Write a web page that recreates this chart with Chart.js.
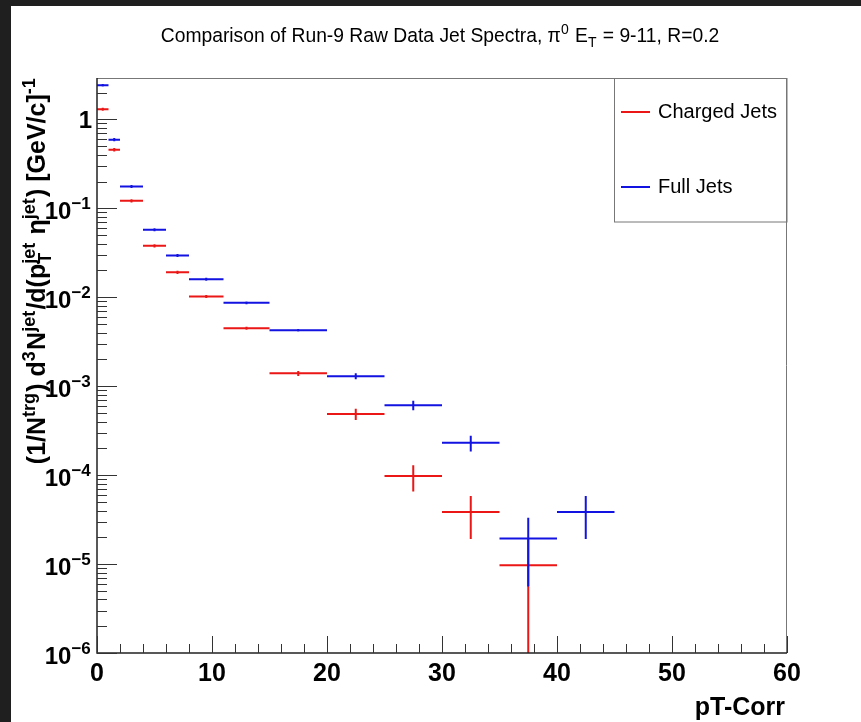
<!DOCTYPE html>
<html>
<head>
<meta charset="utf-8">
<script src="https://cdn.jsdelivr.net/npm/chart.js@4.4.1/dist/chart.umd.min.js"></script>
<style>
  html, body { margin: 0; padding: 0; background: #fff; }
  canvas { display: block; }
</style>
</head>
<body>
<canvas id="chart" width="861" height="722"></canvas>
<script>
// pT-Corr bin edges (variable width bins)
const binEdges = [0, 1, 2, 4, 6, 8, 11, 15, 20, 25, 30, 35, 40, 45];

// per-trigger yields
const chargedJets = [1.30, 0.456, 0.1216, 0.0379, 0.0191, 0.01018, 0.00449, 0.001396, 0.000486, 0.0000975, 0.0000386, 0.0000097, null];
const chargedErr  = [0.05, 0.02, 0.005, 0.0016, 0.0008, 0.0004, 0.00018, 0.00009, 0.00007, 0.000032, 0.0000195, 0.0000097, null];
const fullJets    = [2.42, 0.592, 0.176, 0.0574, 0.0295, 0.01596, 0.00865, 0.00426, 0.001294, 0.000610, 0.000231, 0.0000194, 0.0000386];
const fullErr     = [0.08, 0.025, 0.007, 0.0022, 0.0012, 0.0006, 0.0003, 0.00015, 0.0001, 0.000075, 0.000047, 0.0000138, 0.0000195];

const xTicks = [0, 10, 20, 30, 40, 50, 60];
const yDecades = [-6, -5, -4, -3, -2, -1, 0];

const RED = 'rgb(235,22,22)';
const BLUE = 'rgb(18,18,225)';
const FONT = '"Liberation Sans", Arial, Helvetica, sans-serif';

function toPoints(vals) {
  return vals.map((v, i) => ({ x: (binEdges[i] + binEdges[i + 1]) / 2, y: v }));
}

// draw text made of pieces: {t} normal, {sup}, {sub}, or both stacked
function richWidth(ctx, parts, size, weight) {
  let w = 0;
  parts.forEach(p => {
    if (p.t !== undefined) {
      ctx.font = weight + ' ' + size + 'px ' + FONT;
      w += ctx.measureText(p.t).width;
    } else {
      ctx.font = weight + ' ' + Math.round(size * 0.7) + 'px ' + FONT;
      const a = p.sup ? ctx.measureText(p.sup).width : 0;
      const b = p.sub ? ctx.measureText(p.sub).width : 0;
      w += Math.max(a, b) + size * 0.05;
    }
  });
  return w;
}

function drawRich(ctx, parts, x, y, size, weight, align) {
  let cx = x;
  if (align === 'right') cx = x - richWidth(ctx, parts, size, weight);
  if (align === 'center') cx = x - richWidth(ctx, parts, size, weight) / 2;
  ctx.textAlign = 'left';
  ctx.textBaseline = 'alphabetic';
  parts.forEach(p => {
    if (p.t !== undefined) {
      ctx.font = weight + ' ' + size + 'px ' + FONT;
      ctx.fillText(p.t, cx, y);
      cx += ctx.measureText(p.t).width;
    } else {
      ctx.font = weight + ' ' + Math.round(size * 0.7) + 'px ' + FONT;
      let a = 0, b = 0;
      if (p.sup) { ctx.fillText(p.sup, cx, y - size * 0.42); a = ctx.measureText(p.sup).width; }
      if (p.sub) { ctx.fillText(p.sub, cx, y + size * 0.25); b = ctx.measureText(p.sub).width; }
      cx += Math.max(a, b) + size * 0.05;
    }
  });
}

const titleParts = [
  { t: 'Comparison of Run-9 Raw Data Jet Spectra, \u03c0' }, { sup: '0' },
  { t: ' E' }, { sub: 'T' }, { t: ' = 9-11, R=0.2' }
];
const yTitleParts = [
  { t: '(1/N' }, { sup: 'trg' }, { t: ') d' }, { sup: '3' }, { t: 'N' }, { sup: 'jet' },
  { t: '/d(p' }, { sub: 'T', sup: 'jet' }, { t: ' \u03b7' }, { sup: 'jet' },
  { t: ') [GeV/c]' }, { sup: '-1' }
];

const rootStyle = {
  id: 'rootStyle',
  beforeDraw(chart) {
    const ctx = chart.ctx;
    ctx.save();
    ctx.fillStyle = '#fff';
    ctx.fillRect(0, 0, chart.width, chart.height);
    ctx.fillStyle = '#1f1f1f';
    ctx.fillRect(0, 0, chart.width, 6);
    ctx.fillRect(0, 0, 11, chart.height);
    ctx.restore();
  },
  afterDatasetsDraw(chart) {
    const ctx = chart.ctx;
    const xs = chart.scales.x, ys = chart.scales.y, area = chart.chartArea;
    ctx.save();
    ctx.beginPath();
    ctx.rect(area.left, area.top, area.right - area.left, area.bottom - area.top);
    ctx.clip();
    ctx.lineWidth = 2;
    chart.data.datasets.forEach(ds => {
      ctx.strokeStyle = ds.borderColor;
      ds.data.forEach((pt, j) => {
        if (pt.y === null) return;
        const yv = ys.getPixelForValue(pt.y);
        const x0 = xs.getPixelForValue(binEdges[j]);
        const x1 = xs.getPixelForValue(binEdges[j + 1]);
        const xc = xs.getPixelForValue(pt.x);
        const e = ds.errors[j];
        const yHi = ys.getPixelForValue(pt.y + e);
        const lo = pt.y - e;
        const yLo = lo > 0 ? ys.getPixelForValue(lo) : area.bottom;
        ctx.beginPath();
        ctx.moveTo(x0, yv); ctx.lineTo(x1, yv);
        ctx.moveTo(xc, yHi); ctx.lineTo(xc, yLo);
        ctx.stroke();
      });
    });
    ctx.restore();
  },
  afterDraw(chart) {
    const ctx = chart.ctx;
    const xs = chart.scales.x, ys = chart.scales.y, a = chart.chartArea;
    ctx.save();

    // frame
    ctx.strokeStyle = '#777';
    ctx.lineWidth = 1;
    ctx.beginPath();
    ctx.moveTo(a.left, a.top + 0.5); ctx.lineTo(a.right, a.top + 0.5);
    ctx.moveTo(a.right - 0.5, a.top); ctx.lineTo(a.right - 0.5, a.bottom);
    ctx.stroke();
    ctx.strokeStyle = '#222';
    ctx.lineWidth = 1.5;
    ctx.beginPath();
    ctx.moveTo(a.left, a.top); ctx.lineTo(a.left, a.bottom);
    ctx.lineTo(a.right, a.bottom);
    ctx.stroke();

    // x ticks (inside)
    ctx.strokeStyle = '#333';
    ctx.lineWidth = 1;
    ctx.beginPath();
    for (let v = 0; v <= 60; v += 2) {
      const px = Math.round(xs.getPixelForValue(v)) + 0.5;
      const len = v % 10 === 0 ? 17 : 9;
      ctx.moveTo(px, a.bottom); ctx.lineTo(px, a.bottom - len);
    }
    // y ticks (inside, log)
    yDecades.forEach(d => {
      for (let m = 1; m <= 9; m++) {
        const v = m * Math.pow(10, d);
        if (v > ys.max) break;
        const py = Math.round(ys.getPixelForValue(v)) + 0.5;
        const len = m === 1 ? 20 : 10;
        ctx.moveTo(a.left, py); ctx.lineTo(a.left + len, py);
      }
    });
    ctx.stroke();

    ctx.fillStyle = '#000';
    // x tick labels
    ctx.font = 'bold 25px ' + FONT;
    ctx.textAlign = 'center';
    ctx.textBaseline = 'alphabetic';
    xTicks.forEach(v => ctx.fillText(String(v), xs.getPixelForValue(v), 681));

    // y tick labels
    yDecades.forEach(d => {
      const py = ys.getPixelForValue(Math.pow(10, d));
      if (d === 0) {
        ctx.font = 'bold 24px ' + FONT;
        ctx.textAlign = 'right';
        ctx.fillText('1', 92, py + 9);
      } else {
        drawRich(ctx, [{ t: '10' }, { sup: '\u2212' + (-d) }], 92, py + 11, 24, 'bold', 'right');
      }
    });

    // axis titles
    ctx.font = 'bold 25px ' + FONT;
    ctx.textAlign = 'right';
    ctx.fillText('pT-Corr', a.right - 2, 715);

    ctx.save();
    ctx.translate(45, a.top - 1);
    ctx.rotate(-Math.PI / 2);
    drawRich(ctx, yTitleParts, 0, 0, 25, 'bold', 'right');
    ctx.restore();

    // main title
    drawRich(ctx, titleParts, 440, 42, 19.3, 'normal', 'center');

    // legend box
    const lx0 = 614.5, lx1 = a.right, ly0 = a.top, ly1 = 221.5;
    ctx.strokeStyle = '#777';
    ctx.lineWidth = 1;
    ctx.strokeRect(lx0, ly0 + 0.5, lx1 - lx0, ly1 - ly0);
    const rows = [112, 187];
    chart.data.datasets.forEach((ds, i) => {
      ctx.strokeStyle = ds.borderColor;
      ctx.lineWidth = 2;
      ctx.beginPath();
      ctx.moveTo(621, rows[i]); ctx.lineTo(650, rows[i]);
      ctx.stroke();
      ctx.fillStyle = '#000';
      ctx.font = '20px ' + FONT;
      ctx.textAlign = 'left';
      ctx.textBaseline = 'middle';
      ctx.fillText(ds.label, 658, rows[i]);
    });
    ctx.restore();
  }
};

new Chart(document.getElementById('chart'), {
  type: 'scatter',
  data: {
    datasets: [
      { label: 'Charged Jets', data: toPoints(chargedJets), errors: chargedErr,
        borderColor: RED, backgroundColor: RED, pointRadius: 0, showLine: false },
      { label: 'Full Jets', data: toPoints(fullJets), errors: fullErr,
        borderColor: BLUE, backgroundColor: BLUE, pointRadius: 0, showLine: false }
    ]
  },
  options: {
    responsive: false,
    animation: false,
    devicePixelRatio: 1,
    layout: { padding: { left: 97, right: 74, top: 78, bottom: 69 } },
    scales: {
      x: { type: 'linear', min: 0, max: 60, display: false },
      y: { type: 'logarithmic', min: 1e-6, max: 2.92, display: false }
    },
    plugins: {
      legend: { display: false },
      tooltip: { enabled: false },
      title: { display: false }
    }
  },
  plugins: [rootStyle]
});
</script>
</body>
</html>
